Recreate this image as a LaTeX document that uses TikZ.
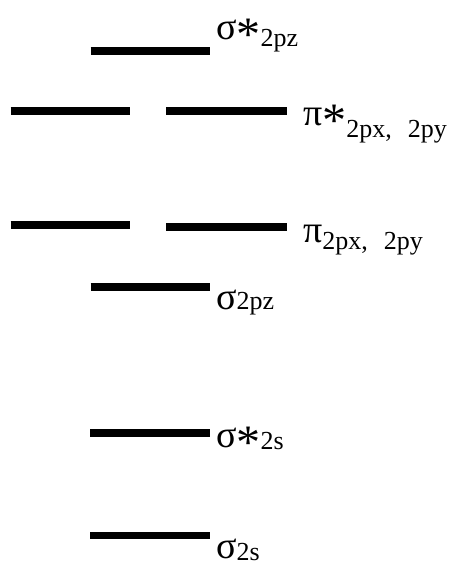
\documentclass[tikz,border=0pt]{standalone}
\usepackage{fontspec}
\setmainfont{Liberation Serif}
\definecolor{moInk}{HTML}{000000}
% subscript, lowered by the optional amount
\newcommand{\mosub}[2][3bp]{\raisebox{-#1}{\fontsize{26bp}{28bp}\selectfont #2}}
% big starred mark
\newcommand{\mostar}{\raisebox{-11bp}{\fontsize{48bp}{48bp}\selectfont *}}
\tikzset{
  mo level/.style={draw=moInk, line width=7.5bp, line cap=butt},
  mo label/.style={anchor=base west, inner sep=0pt, text=moInk, font=\fontsize{38bp}{40bp}\selectfont},
}

\begin{document}
\begin{tikzpicture}[x=1bp,y=1bp]
  \useasboundingbox (0,0) rectangle (449,565);
  % antibonding sigma 2pz
  \draw[mo level] (90.5,514) -- (210,514);
  \node[mo label] (sigStarPz) at (216,525) {σ\mostar\mosub[7bp]{2pz}};
  % pi* pair
  \draw[mo level] (10.5,454) -- (130,454);
  \draw[mo level] (166,454) -- (287,454);
  \node[mo label] (piStar) at (303,439) {π\mostar\mosub[12bp]{2px,\hspace{16bp}2py}};
  % pi pair
  \draw[mo level] (10.5,340) -- (130,340);
  \draw[mo level] (166,338) -- (287,338);
  \node[mo label] (piBond) at (303,322) {π\mosub[7bp]{2px,\hspace{16bp}2py}};
  % sigma 2pz
  \draw[mo level] (90.5,278) -- (210,278);
  \node[mo label] (sigPz) at (216,255) {σ\mosub[0bp]{2pz}};
  % 2s levels
  \draw[mo level] (90,132) -- (210,132);
  \node[mo label] (sigStarS) at (216,117) {σ\mostar\mosub[2bp]{2s}};
  \draw[mo level] (90,29.5) -- (210,29.5);
  \node[mo label] (sigS) at (216,6) {σ\mosub[2bp]{2s}};
\end{tikzpicture}
\end{document}
